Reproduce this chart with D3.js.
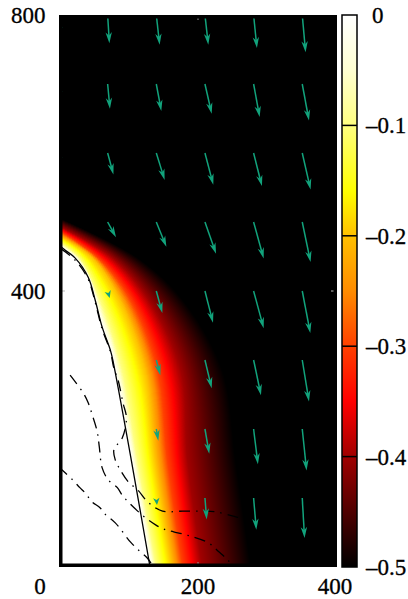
<!DOCTYPE html>
<html>
<head>
<meta charset="utf-8">
<script src="https://cdn.jsdelivr.net/npm/d3@7"></script>
<style>
	body { margin: 0; background: #fff; }
	svg { display: block; }
</style>
</head>
<body>
<svg id="chart" width="408" height="599"></svg>
<script>
// tick labels
const xTicks = [0, 200, 400];
const yTicks = [400, 800];
const cbTicks = [0, -0.1, -0.2, -0.3, -0.4, -0.5];

// palette of the colour bar (value -> colour)
const paletteValues = [0, -0.05, -0.1, -0.16, -0.2, -0.25, -0.3, -0.35, -0.4, -0.45, -0.5];
const paletteColors = ["#ffffff", "#ffffd2", "#ffff80", "#ffff00", "#ffc000", "#ff8c00", "#ff4000", "#ff0000", "#a00000", "#500000", "#000000"];

// field levels and where each one lies (x, y)
const levels = [0, -0.1, -0.2, -0.3, -0.4, -0.5];
const iso0 = [[0, 467], [3, 464], [9, 459], [23, 448], [42, 420], [52, 387], [62, 348], [74, 314], [78, 297], [104, 155], [131, 0]];
const iso1 = [[0, 471], [29, 448], [59, 387], [91, 285], [113, 155], [140, 0]];
const iso2 = [[0, 480], [48, 448], [88, 387], [124, 285], [139, 155], [163, 0]];
const iso3 = [[0, 487], [56, 448], [103, 387], [142, 285], [156, 155], [178, 0]];
const iso4 = [[0, 494], [77, 448], [129, 387], [175, 285], [185, 155], [206, 0]];
const iso5 = [[0, 506], [113, 448], [178, 387], [235, 285], [254, 155], [276, 0]];

// dash-dot contour lines
const dashA = [[16, 278], [35, 252], [42, 238], [48, 220], [55, 196], [58, 174], [62, 144], [71, 126], [84, 115], [91, 104], [100, 94], [120, 75], [139, 61], [153, 54], [165, 51], [185, 46], [215, 35], [230, 22], [243, 10], [251, 0]];
const dashB = [[3, 461], [23, 445], [42, 417], [52, 384], [62, 345], [74, 312], [79, 288], [85, 271], [92, 238], [97, 216], [91, 187], [79, 170], [81, 155], [88, 141], [100, 123], [113, 112], [128, 94], [149, 81], [178, 81], [206, 81], [225, 80], [257, 72], [287, 65]];
const dashC = [[0, 145], [4, 141], [20, 126], [30, 115], [38, 107], [48, 94], [59, 86], [66, 77], [81, 64], [103, 36], [117, 22], [127, 13], [134, 3]];

// arrows (velocity field)
const arrowX = [0, 70, 140, 210, 280, 350];
const arrowY = [800, 700, 600, 500, 400, 300, 200, 100];
const arrowU = [
	[0.7, 2.5, 4.8, 4.8, 4.8, 4.8],
	[0.5, 3.3, 7.2, 9.7, 8.7, 9.7],
	[0.5, 8.3, 12, 12, 12, 12],
	[null, 12, 14.5, 16, 14.5, 12],
	[null, 3, 8.7, 11.6, 14.5, 11.6],
	[null, null, 5.8, 9.7, 10.6, 9.7],
	[null, null, 2.9, 6.2, 6.2, 6.2],
	[null, null, 1, 2.5, 3.9, 3.3],
];
const arrowV = [
	[-33, -41, -43, -43, -48, -54],
	[-26, -36, -39, -43, -48, -53],
	[-22, -31, -39, -46, -48, -53],
	[null, -22, -36, -46, -53, -58],
	[null, -10, -32, -46, -54, -61],
	[null, null, -22, -41, -51, -60],
	[null, null, -17, -36, -51, -60],
	[null, null, -10, -31, -46, -58],
];

const plot = { left: 59, right: 337, top: 15, bottom: 567 };
const cbar = { left: 342, width: 15 };
const arrowColor = "#12a37c";
const serif = "'Liberation Serif'";

const svg = d3.select("#chart");

const x = d3.scaleLinear().domain([0, 400]).range([plot.left, plot.right]);
const y = d3.scaleLinear().domain([0, 800]).range([plot.bottom, plot.top]);
const cbY = d3.scaleLinear().domain([0, -0.5]).range([plot.top, plot.bottom]);
const color = d3.scaleLinear()
	.domain(paletteValues)
	.range(paletteColors)
	.interpolate(d3.interpolateRgb)
	.clamp(true);

const line = d3.line()
	.x(d => x(d[0]))
	.y(d => y(d[1]))
	.curve(d3.curveCatmullRom);

// --- field image ---
// sample each smoothed level line, then find its radius along rays from the origin
const scratch = svg.append("g").attr("visibility", "hidden");
function samplePath(pts) {
	const p = scratch.append("path").attr("d", line(pts)).node();
	const len = p.getTotalLength();
	const out = [];
	for (let s = 0; s <= len; s += 0.5) {
		const q = p.getPointAtLength(s);
		out.push([q.x - plot.left, plot.bottom - q.y]);
	}
	const q = p.getPointAtLength(len);
	out.push([q.x - plot.left, plot.bottom - q.y]);
	return out;
}

const nAng = 721;
function rayRadii(pts) {
	const radii = new Array(nAng).fill(null);
	const angs = pts.map(p => Math.atan2(p[1], p[0]));
	for (let k = 0; k < nAng; k++) {
		const th = (k / (nAng - 1)) * Math.PI / 2;
		const c = Math.cos(th), s = Math.sin(th);
		for (let i = 0; i < pts.length - 1; i++) {
			if ((th - angs[i]) * (th - angs[i + 1]) <= 0) {
				const [x1, y1] = pts[i], [x2, y2] = pts[i + 1];
				const dx = x2 - x1, dy = y2 - y1;
				const den = c * dy - s * dx;
				const t = Math.abs(den) < 1e-9 ? 0 : -(c * y1 - s * x1) / den;
				radii[k] = c * (x1 + t * dx) + s * (y1 + t * dy);
				break;
			}
		}
		if (radii[k] === null && k > 0) radii[k] = radii[k - 1];
	}
	for (let k = nAng - 2; k >= 0; k--) if (radii[k] === null) radii[k] = radii[k + 1];
	return radii;
}

const isoLines = [iso0, iso1, iso2, iso3, iso4, iso5];
const radiiTable = isoLines.map(pts => rayRadii(samplePath(pts)));
scratch.remove();

function fieldValue(dx, dy) {
	const th = Math.atan2(dy, dx);
	const k = Math.round(th / (Math.PI / 2) * (nAng - 1));
	const r = Math.hypot(dx, dy);
	if (r <= radiiTable[0][k]) return levels[0];
	for (let i = 0; i < levels.length - 1; i++) {
		const r0 = radiiTable[i][k], r1 = radiiTable[i + 1][k];
		if (r <= r1) return levels[i] + (levels[i + 1] - levels[i]) * (r - r0) / Math.max(r1 - r0, 1e-6);
	}
	return levels[levels.length - 1];
}

const imgW = plot.right - plot.left, imgH = plot.bottom - plot.top;
const canvas = document.createElement("canvas");
canvas.width = imgW;
canvas.height = imgH;
const ctx = canvas.getContext("2d");
const img = ctx.createImageData(imgW, imgH);
for (let j = 0; j < imgH; j++) {
	for (let i = 0; i < imgW; i++) {
		const v = fieldValue(i + 0.5, imgH - j - 0.5);
		const c = d3.rgb(color(v));
		const o = (j * imgW + i) * 4;
		img.data[o] = c.r;
		img.data[o + 1] = c.g;
		img.data[o + 2] = c.b;
		img.data[o + 3] = 255;
	}
}
ctx.putImageData(img, 0, 0);

const defs = svg.append("defs");
defs.append("clipPath").attr("id", "plot-clip")
	.append("rect")
	.attr("x", plot.left).attr("y", plot.top)
	.attr("width", imgW).attr("height", imgH);

svg.append("image")
	.attr("x", plot.left)
	.attr("y", plot.top)
	.attr("width", imgW)
	.attr("height", imgH)
	.attr("preserveAspectRatio", "none")
	.attr("href", canvas.toDataURL());

const layer = svg.append("g").attr("clip-path", "url(#plot-clip)");

// faint ticks hidden under the image
layer.selectAll(".xt").data([200]).enter().append("path")
	.attr("d", d => `M${x(d)},${plot.top}v5M${x(d)},${plot.bottom}v-5`)
	.attr("stroke", "#999").attr("stroke-width", 1);
layer.selectAll(".yt").data([400]).enter().append("path")
	.attr("d", d => `M${plot.left},${y(d)}h6M${plot.right},${y(d)}h-6`)
	.attr("stroke", "#bbb").attr("stroke-width", 1);

// contour lines
layer.append("path")
	.attr("d", line(iso0))
	.attr("fill", "none")
	.attr("stroke", "#000")
	.attr("stroke-width", 1.3);

layer.selectAll(".dashdot")
	.data([dashA, dashB, dashC])
	.enter()
	.append("path")
	.attr("d", d => line(d))
	.attr("fill", "none")
	.attr("stroke", "#000")
	.attr("stroke-width", 1.3)
	.attr("stroke-dasharray", "11,6,1.5,6");

// arrows
arrowY.forEach((ay, r) => {
	arrowX.forEach((ax, c) => {
		const u = arrowU[r][c], v = arrowV[r][c];
		if (u === null || v === null) return;
		const x0 = x(ax), y0 = y(ay), x1 = x(ax + u), y1 = y(ay + v);
		const len = Math.hypot(x1 - x0, y1 - y0);
		const ux = (x1 - x0) / len, uy = (y1 - y0) / len;
		const hl = Math.min(11, len), hw = 3.2;
		const bx = x1 - ux * hl, by = y1 - uy * hl;
		if (len > hl) {
			layer.append("line")
				.attr("x1", x0).attr("y1", y0)
				.attr("x2", x1 - ux * hl * 0.6).attr("y2", y1 - uy * hl * 0.6)
				.attr("stroke", arrowColor)
				.attr("stroke-width", 1.5);
		}
		const pts = [
			[x1, y1],
			[bx - uy * hw, by + ux * hw],
			[x1 - ux * hl * 0.7, y1 - uy * hl * 0.7],
			[bx + uy * hw, by - ux * hw],
		];
		layer.append("path")
			.attr("d", "M" + pts.map(p => p.join(",")).join("L") + "Z")
			.attr("fill", arrowColor);
	});
});

// frame
svg.append("rect")
	.attr("x", plot.left + 1.75)
	.attr("y", plot.top + 1.75)
	.attr("width", imgW - 3.5)
	.attr("height", imgH - 3.5)
	.attr("fill", "none")
	.attr("stroke", "#000")
	.attr("stroke-width", 3.5);

// axis labels
svg.selectAll(".ylab")
	.data(yTicks)
	.enter()
	.append("text")
	.attr("x", 45.5)
	.attr("y", d => y(d))
	.attr("dy", "0.35em")
	.attr("text-anchor", "end")
	.attr("font-family", serif)
	.attr("font-size", 23)
	.attr("stroke", "#000")
	.attr("stroke-width", 0.3)
	.text(d => d);

svg.selectAll(".xlab")
	.data(xTicks)
	.enter()
	.append("text")
	.attr("x", d => x(d) + (d === 0 ? -19 : (d === 400 ? -2 : 0)))
	.attr("y", 594)
	.attr("text-anchor", "middle")
	.attr("font-family", serif)
	.attr("font-size", 23)
	.attr("stroke", "#000")
	.attr("stroke-width", 0.3)
	.text(d => d);

// colour bar
const grad = defs.append("linearGradient")
	.attr("id", "cb-grad")
	.attr("x1", 0).attr("y1", 0).attr("x2", 0).attr("y2", 1);
grad.selectAll("stop")
	.data(paletteValues)
	.enter()
	.append("stop")
	.attr("offset", d => (cbY(d) - plot.top) / imgH)
	.attr("stop-color", (d, i) => paletteColors[i]);

svg.append("rect")
	.attr("x", cbar.left)
	.attr("y", plot.top)
	.attr("width", cbar.width)
	.attr("height", imgH)
	.attr("fill", "url(#cb-grad)")
	.attr("stroke", "#000")
	.attr("stroke-width", 1.5);

svg.selectAll(".cbtick")
	.data(cbTicks.slice(1, -1))
	.enter()
	.append("line")
	.attr("x1", cbar.left).attr("x2", cbar.left + cbar.width)
	.attr("y1", d => cbY(d)).attr("y2", d => cbY(d))
	.attr("stroke", "#000")
	.attr("stroke-width", 1.5);

svg.selectAll(".cblab")
	.data(cbTicks)
	.enter()
	.append("text")
	.attr("x", d => d === 0 ? 372 : 366)
	.attr("y", d => cbY(d))
	.attr("dy", "0.35em")
	.attr("font-family", serif)
	.attr("font-size", 23)
	.attr("stroke", "#000")
	.attr("stroke-width", 0.3)
	.text(d => d === 0 ? "0" : "\u2013" + Math.abs(d).toFixed(1));
</script>
</body>
</html>
